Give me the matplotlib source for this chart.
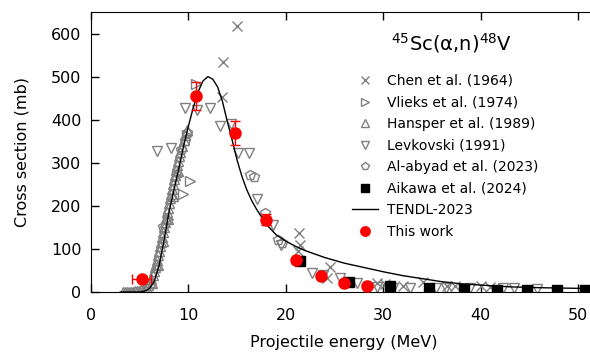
import matplotlib.pyplot as plt
from matplotlib.lines import Line2D

# 45Sc(a,n)48V excitation function

chen_e = [13.4, 13.6, 15.0, 21.3, 21.5, 21.4, 24.2, 24.5, 29.4, 30.2, 32.0, 34.1, 36.6, 37.4, 40.0, 41.0]
chen_cs = [452, 534, 618, 95, 109, 138, 33, 57, 21, 18, 14, 23, 13, 14, 13, 12]

vlieks_e = [7.9, 8.8, 9.4, 9.9, 10.2, 10.8]
vlieks_cs = [170, 270, 228, 365, 257, 482]

hansper_e = [3.3, 3.5, 3.7, 3.9, 4.1, 4.3, 4.5, 4.7, 4.9, 5.1, 5.3, 5.5, 5.7, 5.9, 6.1,
             6.2, 6.4, 6.5, 6.6, 6.7, 6.8, 6.9, 7.0, 7.1, 7.2, 7.3, 7.4, 7.5, 7.6, 7.7,
             7.8, 7.9, 8.0, 8.1, 8.2, 8.3, 8.4, 8.5, 8.6, 8.7, 8.8, 8.9, 9.0, 9.1, 9.3,
             9.5, 9.7, 9.9, 6.3, 6.9, 7.4, 7.9, 8.4, 8.9]
hansper_cs = [0, 0, 0, 1, 1, 1, 2, 2, 3, 4, 5, 7, 10, 16, 24,
              30, 40, 48, 58, 66, 75, 85, 95, 106, 117, 128, 140, 150, 162, 172,
              185, 196, 206, 218, 228, 240, 250, 262, 272, 284, 295, 305, 316, 326, 340,
              352, 365, 375, 22, 62, 118, 170, 222, 280]

levkovski_e = [6.75, 8.2, 9.66, 10.9, 12.2, 13.2, 14.4, 15.1, 16.2, 17.0, 18.7, 19.5,
               22.7, 23.8, 25.6, 27.3, 29.4, 31.0, 32.8, 35.4, 36.4, 38.9, 42.3, 43.4, 45.8]
levkovski_cs = [328, 334, 428, 422, 428, 385, 391, 322, 322, 217, 155, 110,
                43, 39, 32, 20, 12, 10, 9, 9, 9, 9, 9, 9, 8]

alabyad_e = [7.4, 9.2, 9.6, 9.9, 16.3, 16.7, 17.9, 19.2, 19.6]
alabyad_cs = [152, 330, 350, 368, 271, 267, 184, 121, 113]

aikawa_e = [21.5, 26.5, 30.7, 34.7, 38.3, 41.7, 44.8, 47.8, 50.7]
aikawa_cs = [72, 24, 13, 9, 6, 5, 5, 4, 4]

tendl_e = [3.0, 5.0, 5.5, 6.0, 6.5, 7.0, 7.5, 8.0, 8.5, 9.0, 9.5, 10.0, 10.5, 11.0, 11.5,
           12.0, 12.5, 13.0, 13.5, 14.0, 14.5, 15.0, 15.5, 16.0, 16.5, 17.0, 18.0, 19.0,
           20.0, 21.0, 22.0, 24.0, 26.0, 28.0, 30.0, 32.0, 34.0, 36.0, 38.0, 40.0, 43.0,
           46.0, 50.0, 52.0]
tendl_cs = [0, 0, 2, 8, 25, 62, 120, 185, 235, 285, 338, 385, 428, 465, 490,
            500, 494, 476, 442, 395, 352, 306, 268, 237, 212, 192, 157, 133,
            118, 106, 96, 80, 67, 57, 47, 38, 31, 24, 19, 16, 12,
            10, 8.5, 8]

work_e = [5.2, 10.8, 14.8, 18.0, 21.0, 23.6, 26.0, 28.3]
work_cs = [30, 455, 370, 168, 74, 38, 22, 15]
work_de = [1.0, 0.3, 0.3, 0.3, 0.3, 0.3, 0.3, 0.3]
work_dcs = [3, 33, 28, 13, 6, 4, 3, 2]

gray = '#808080'

fig = plt.figure(figsize=(5.9, 3.6), dpi=100)
ax = fig.add_axes([91/590, 68/360, 506.5/590, 280/360])

ax.plot(chen_e, chen_cs, ls='none', marker='x', ms=7, mew=1, color=gray, label='Chen et al. (1964)')
ax.plot(vlieks_e, vlieks_cs, ls='none', marker='>', ms=7, mew=1, mfc='none', mec=gray, label='Vlieks et al. (1974)')
ax.plot(hansper_e, hansper_cs, ls='none', marker='^', ms=7, mew=1, mfc='none', mec=gray, label='Hansper et al. (1989)')
ax.plot(levkovski_e, levkovski_cs, ls='none', marker='v', ms=7, mew=1, mfc='none', mec=gray, label='Levkovski (1991)')
ax.plot(alabyad_e, alabyad_cs, ls='none', marker='p', ms=7, mew=1, mfc='none', mec=gray, label='Al-abyad et al. (2023)')
ax.plot(aikawa_e, aikawa_cs, ls='none', marker='s', ms=6.5, color='black', label='Aikawa et al. (2024)')
ax.plot(tendl_e, tendl_cs, color='black', lw=1, label='TENDL-2023')
ax.errorbar(work_e, work_cs, xerr=work_de, yerr=work_dcs, fmt='o', ms=8, color='red',
            ecolor='red', elinewidth=1, capsize=3.5, zorder=5)

ax.set_xlim(0, 52)
ax.set_ylim(0, 650)
ax.set_xticks([0, 10, 20, 30, 40, 50])
ax.set_yticks([0, 100, 200, 300, 400, 500, 600])
ax.tick_params(direction='in', length=6, width=1, top=True, right=True, labelsize=11.5)
ax.tick_params(axis='x', pad=11.5)
ax.tick_params(axis='y', pad=7)
ax.set_xlabel('Projectile energy (MeV)', fontsize=11.5, labelpad=9)
ax.set_ylabel('Cross section (mb)', fontsize=11.5, labelpad=15)

ax.text(0.711, 0.89, r'$^{45}$Sc($\mathregular{\alpha}$,n)$^{48}$V', transform=ax.transAxes,
        fontsize=14, ha='center', va='center')

handles, labels = ax.get_legend_handles_labels()
handles.append(Line2D([], [], ls='none', marker='o', ms=8, color='red'))
labels.append('This work')
ax.legend(handles, labels, loc='upper left', bbox_to_anchor=(352/590, 1 - 74/360),
          bbox_transform=fig.transFigure, frameon=False, fontsize=10, markerscale=0.85,
          handlelength=1.85, handletextpad=0.7, labelspacing=0.54, borderpad=0, borderaxespad=0)

fig.savefig('out.png', dpi=100)
